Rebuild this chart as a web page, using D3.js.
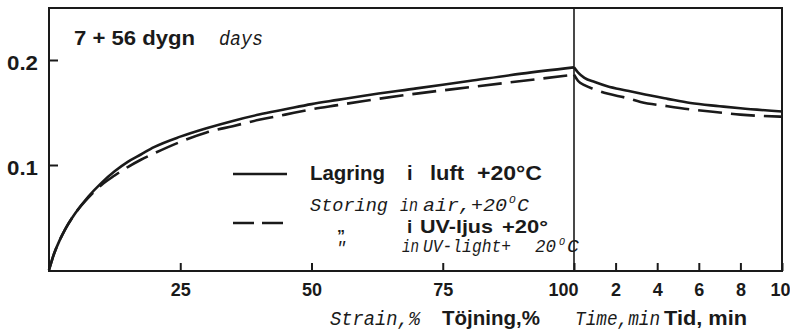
<!DOCTYPE html>
<html>
<head>
<meta charset="utf-8">
<script src="https://cdn.jsdelivr.net/npm/d3@7"></script>
<style>
  html, body { margin: 0; padding: 0; background: #fff; }
  svg { display: block; }
  .sans { font-family: "Liberation Sans", Arial, sans-serif; font-weight: bold; fill: #1a1a1a; }
  .ital { font-family: "Liberation Mono", "DejaVu Sans Mono", monospace; font-style: italic; fill: #1a1a1a; }
</style>
</head>
<body>
<svg id="chart" width="790" height="331"></svg>
<script>
// Strain phase: deformation (%) and stress-like response for both storage conditions
const strainPts = [0, 1, 2, 3, 5, 7.5, 10, 12.5, 15, 17.5, 20, 25, 30, 35, 40, 45, 50, 55, 60, 70, 80, 90, 100];
const airStrain = [0, 0.016, 0.028, 0.038, 0.054, 0.070, 0.083, 0.094, 0.103, 0.110, 0.117, 0.127, 0.135, 0.142, 0.148, 0.153, 0.158, 0.162, 0.166, 0.173, 0.180, 0.187, 0.193];
const uvStrain  = [0, 0.016, 0.028, 0.038, 0.054, 0.069, 0.081, 0.090, 0.098, 0.105, 0.111, 0.122, 0.131, 0.137, 0.143, 0.148, 0.153, 0.157, 0.161, 0.168, 0.174, 0.180, 0.186];

// Relaxation phase: time (min) after reaching 100 % strain
const timePts = [0, 0.2, 0.5, 1, 1.6, 2.5, 3.2, 4.5, 5.6, 7, 8, 10];
const airTime = [0.193, 0.188, 0.183, 0.179, 0.175, 0.171, 0.168, 0.163, 0.159, 0.156, 0.154, 0.151];
const uvTime  = [0.186, 0.180, 0.176, 0.172, 0.168, 0.164, 0.160, 0.156, 0.153, 0.150, 0.148, 0.146];

const yTicks = [0.1, 0.2];
const strainTicks = [25, 50, 75, 100];
const timeTicks = [2, 4, 6, 8, 10];

const svg = d3.select("#chart");
const plotLeft = 49, plotRight = 782, plotTop = 8, plotBottom = 271, split = 574;
const ink = "#1a1a1a";

const y = d3.scaleLinear().domain([0, 0.25]).range([270, 7.5]);
const xs = d3.scaleLinear().domain([0, 100]).range([plotLeft, split]);
const xt = d3.scaleLinear().domain([0, 10]).range([split, plotRight]);

// frame and divider
svg.append("rect").attr("x", plotLeft).attr("y", plotTop)
  .attr("width", plotRight - plotLeft).attr("height", plotBottom - plotTop)
  .attr("fill", "none").attr("stroke", ink).attr("stroke-width", 2);
svg.append("line").attr("x1", split).attr("x2", split).attr("y1", plotTop).attr("y2", plotBottom)
  .attr("stroke", ink).attr("stroke-width", 1.6);

// axes with inward ticks
function styleAxis(g) {
  g.select(".domain").remove();
  g.selectAll(".tick line").attr("stroke", ink).attr("stroke-width", 2);
  g.selectAll(".tick text").attr("class", "sans").attr("font-size", 20).attr("fill", ink);
}
const yAxis = svg.append("g").attr("transform", `translate(${plotLeft},0)`)
  .call(d3.axisLeft(y).tickValues(yTicks).tickSizeInner(-9).tickSizeOuter(0).tickPadding(11).tickFormat(d3.format(".1f")));
styleAxis(yAxis);
yAxis.selectAll(".tick text").attr("dy", "0.45em")
  .attr("textLength", 31).attr("lengthAdjust", "spacingAndGlyphs");

const xsAxis = svg.append("g").attr("transform", `translate(0,${plotBottom})`)
  .call(d3.axisBottom(xs).tickValues(strainTicks).tickSizeInner(-8).tickSizeOuter(0).tickPadding(11));
styleAxis(xsAxis);
xsAxis.selectAll(".tick text").attr("font-size", 18).attr("dy", "0.75em")
  .filter(d => d === 100).attr("text-anchor", "end").attr("dx", 4);

const xtAxis = svg.append("g").attr("transform", `translate(0,${plotBottom})`)
  .call(d3.axisBottom(xt).tickValues(timeTicks).tickSizeInner(-8).tickSizeOuter(0).tickPadding(11));
styleAxis(xtAxis);
xtAxis.selectAll(".tick text").attr("font-size", 18).attr("dy", "0.75em")
  .filter(d => d === 10).attr("dx", -2);

// curves
const lineS = d3.line().x(d => xs(d[0])).y(d => y(d[1])).curve(d3.curveMonotoneX);
const lineT = d3.line().x(d => xt(d[0])).y(d => y(d[1])).curve(d3.curveMonotoneX);
const zip = (a, b) => a.map((v, i) => [v, b[i]]);

function curve(gen, data, dashed) {
  svg.append("path").datum(data).attr("d", gen)
    .attr("fill", "none").attr("stroke", ink).attr("stroke-width", 2.6)
    .attr("stroke-linecap", "butt")
    .attr("stroke-dasharray", dashed ? "24,9" : null);
}
curve(lineS, zip(strainPts, airStrain), false);
curve(lineS, zip(strainPts, uvStrain), true);
curve(lineT, zip(timePts, airTime), false);
curve(lineT, zip(timePts, uvTime), true);

// text helper
function txt(x, yy, s, cls, size, len) {
  const t = svg.append("text").attr("x", x).attr("y", yy).attr("class", cls).attr("font-size", size).text(s);
  if (len) t.attr("textLength", len).attr("lengthAdjust", "spacingAndGlyphs");
  return t;
}

// period label
txt(74, 45, "7 + 56 dygn", "sans", 20, 121);
txt(219, 45, "days", "ital", 20, 44);

// legend
svg.append("line").attr("x1", 233).attr("x2", 287).attr("y1", 174).attr("y2", 174)
  .attr("stroke", ink).attr("stroke-width", 2.6);
svg.append("line").attr("x1", 233).attr("x2", 287).attr("y1", 223).attr("y2", 223)
  .attr("stroke", ink).attr("stroke-width", 2.6).attr("stroke-dasharray", "21,8");

txt(310, 180, "Lagring", "sans", 20, 75);
txt(407, 180, "i", "sans", 20);
txt(430, 180, "luft", "sans", 20, 34);
txt(477, 180, "+20°C", "sans", 20, 65);

txt(310, 211, "Storing", "ital", 19, 78);
txt(400, 211, "in", "ital", 19, 18);
txt(423, 211, "air,+20", "ital", 19, 84);
txt(509, 203, "O", "ital", 11);
txt(517, 211, "C", "ital", 19, 12);

txt(337, 232, "\u201E", "sans", 16);
txt(407, 233, "i", "sans", 19);
txt(420, 233, "UV-ljus", "sans", 19, 73);
txt(502, 233, "+20°", "sans", 19, 46);

txt(336, 253, "\u2033", "ital", 17);
txt(402, 252, "in", "ital", 18, 17);
txt(423, 252, "UV-light+", "ital", 18, 88);
txt(535, 252, "20", "ital", 18, 21);
txt(559, 245, "O", "ital", 10);
txt(567, 252, "C", "ital", 18, 12);

// axis titles
txt(330, 325, "Strain,%", "ital", 20, 90);
txt(442, 325, "Töjning,%", "sans", 20, 98);
txt(575, 325, "Time,min", "ital", 20, 85);
txt(664, 325, "Tid, min", "sans", 20, 83);
</script>
</body>
</html>
